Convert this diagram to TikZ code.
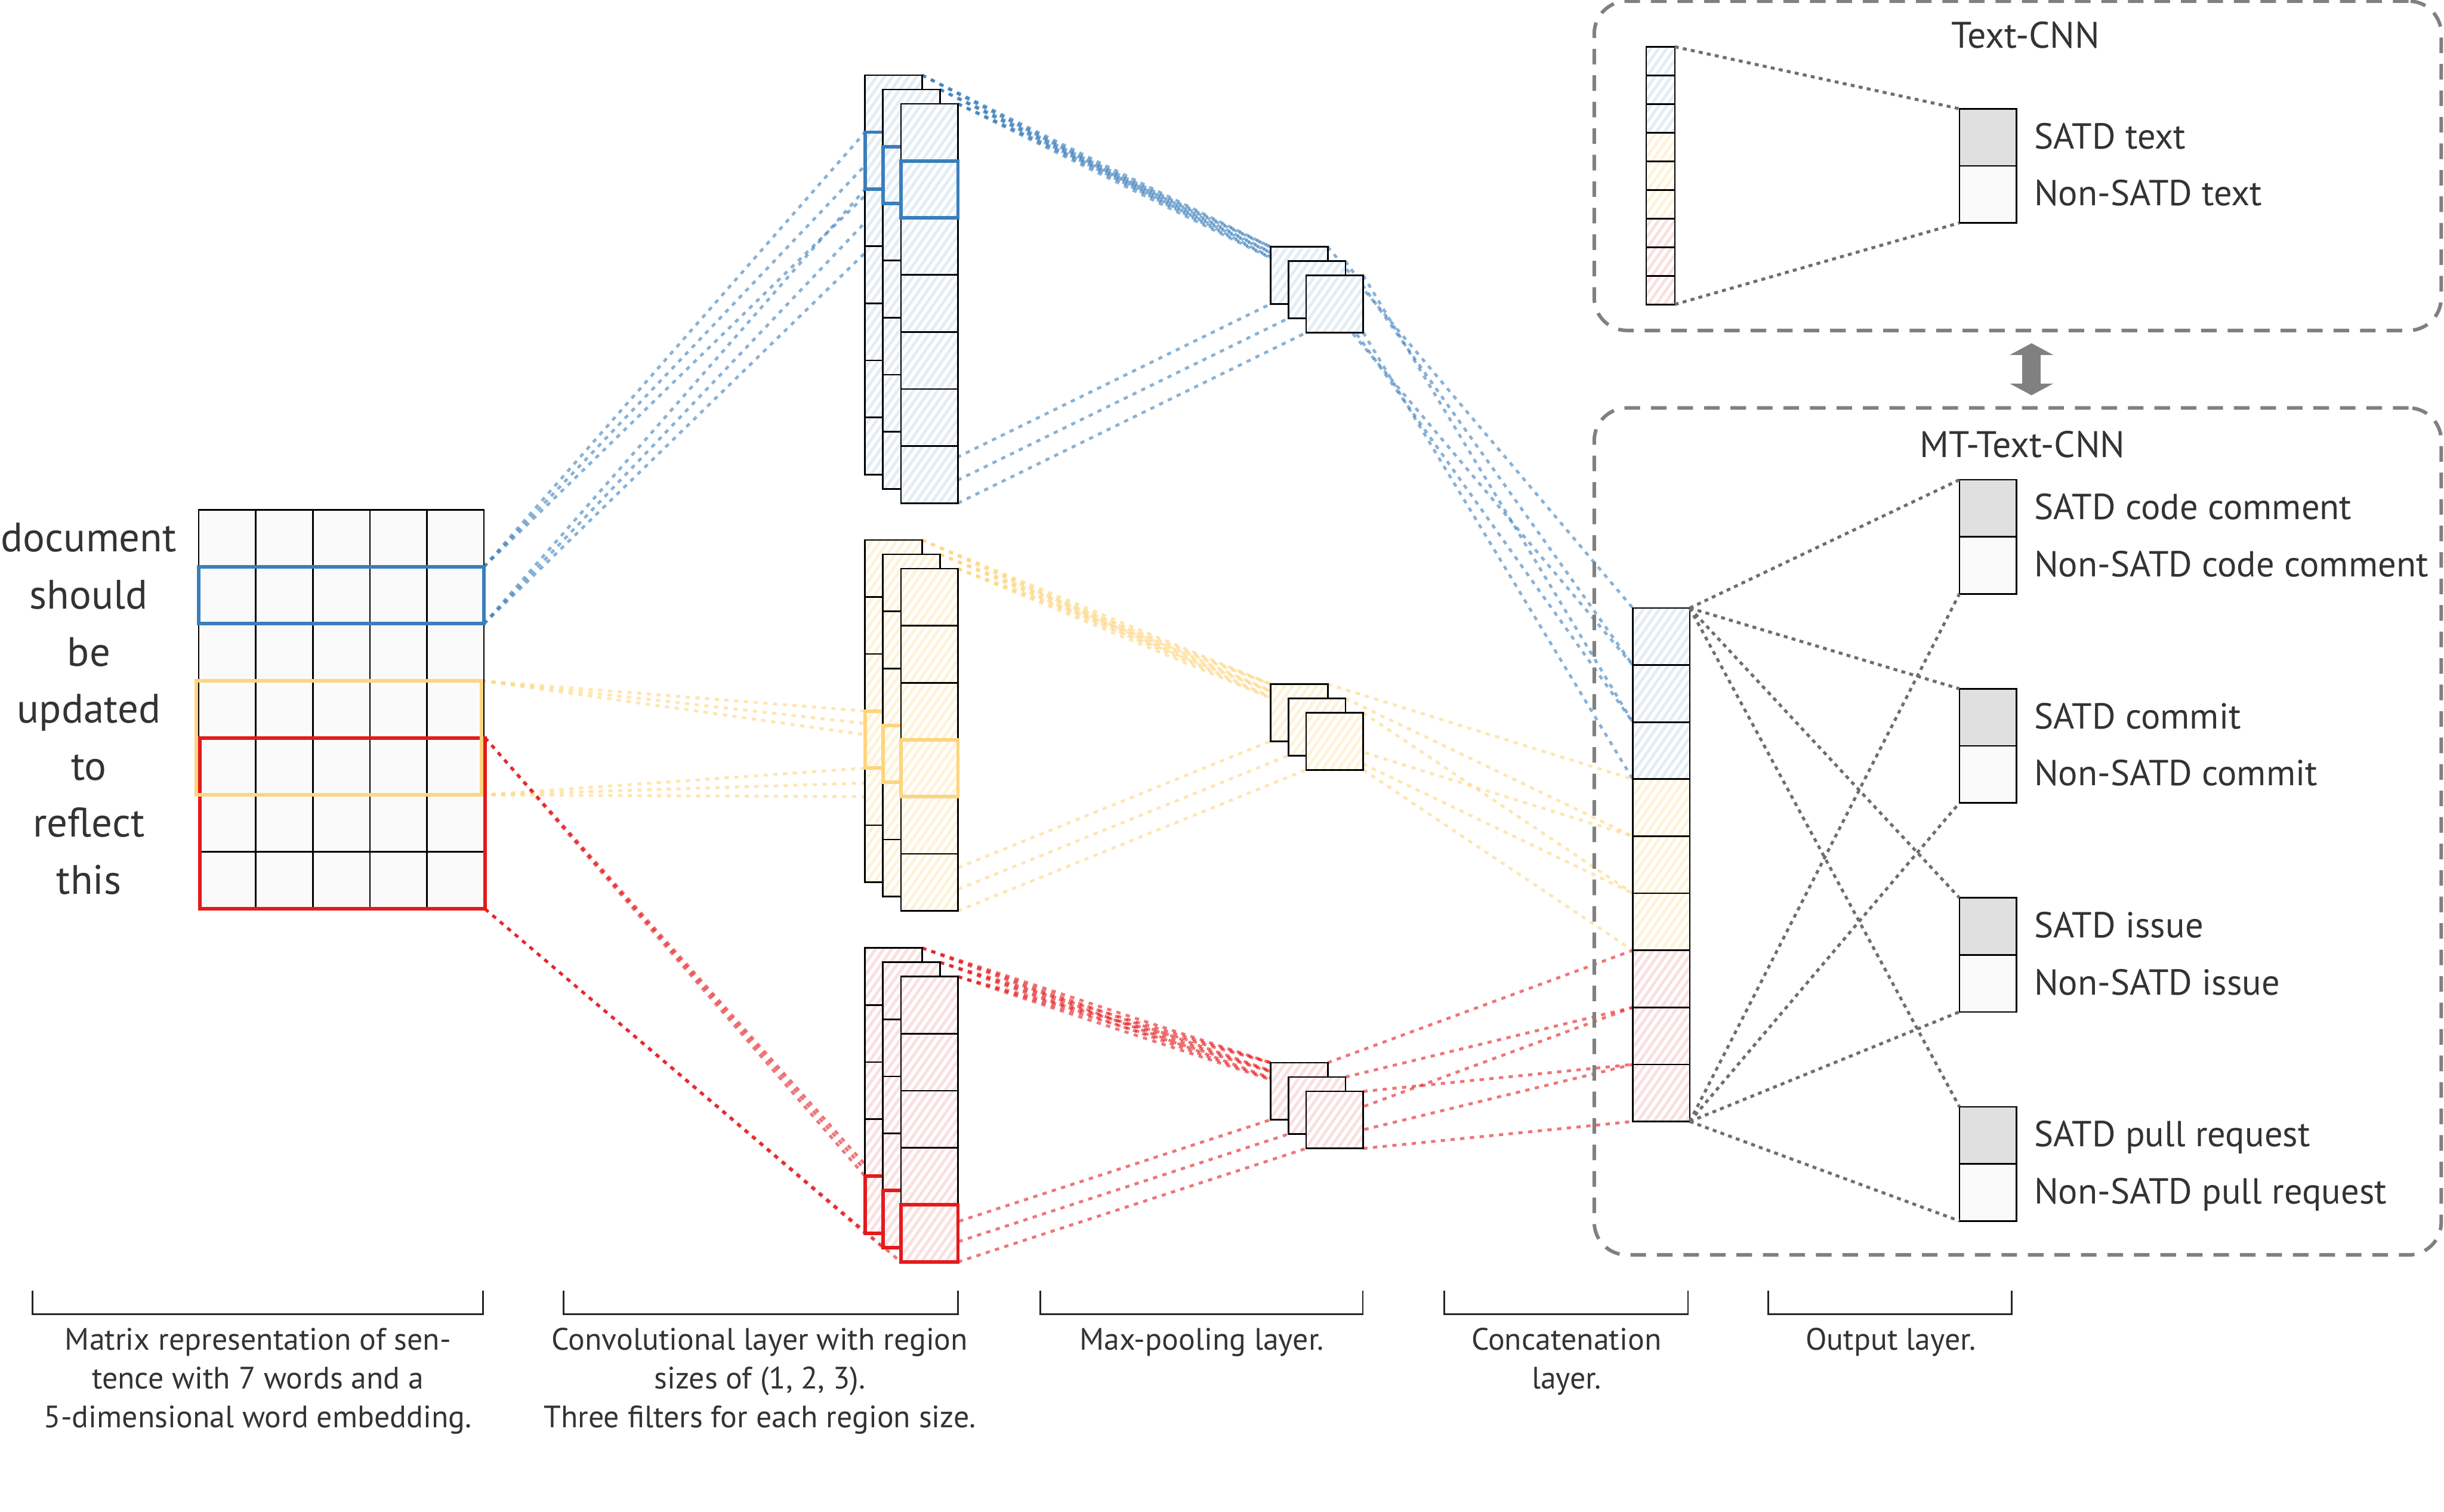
\documentclass[tikz,border=0pt]{standalone}
\usepackage{fontspec}
\setmainfont{PT Sans}
\usetikzlibrary{positioning, fit, arrows.meta, patterns.meta, backgrounds}

\definecolor{hlblue}{HTML}{3A7EBB}
\definecolor{hlyellow}{HTML}{FDD57E}
\definecolor{hlred}{HTML}{E31A1C}
\colorlet{hatchB}{hlblue!14}
\colorlet{hatchY}{hlyellow!30}
\colorlet{hatchR}{hlred!14}
\definecolor{inkgray}{HTML}{333333}
\definecolor{boxgray}{HTML}{808080}
\definecolor{linkgray}{HTML}{6E6E6E}

\begin{document}
\begin{tikzpicture}[
    x=0.2mm, y=-0.2mm,
    every node/.style={text=inkgray},
    gridcell/.style={draw, line width=0.6pt, fill=black!2, minimum size=7.32mm, inner sep=0, outer sep=0},
    hatchcell/.style={draw, line width=0.6pt, minimum size=7.32mm, inner sep=0, outer sep=0,
      preaction={fill=white}, pattern={Lines[angle=55, distance=2.4pt, line width=1.1pt]}, pattern color=#1},
    smallcell/.style={hatchcell=#1, minimum size=3.67mm},
    outcell/.style={draw, line width=0.6pt, minimum size=7.32mm, inner sep=0, outer sep=0, fill=#1},
    hlbox/.style={draw=#1, line width=1.3pt, inner sep=0, outer sep=0},
    link/.style={#1, opacity=0.6, line width=1.05pt, dash pattern=on 0.55mm off 0.7mm},
    graylink/.style={linkgray, line width=1.1pt, dash pattern=on 0.5mm off 0.55mm},
    groupbox/.style={draw=boxgray, line width=1.3pt, dash pattern=on 2mm off 1.4mm, rounded corners=4.2mm, inner sep=0, outer sep=0},
    word/.style={font=\fontsize{15}{17}\selectfont, text height=1.6ex, text depth=0.4ex, yshift=-0.7mm},
    lbl/.style={font=\fontsize{13.2}{16}\selectfont, inner sep=0, text height=1.6ex, text depth=0.4ex, yshift=-0.4mm},
    boxtitle/.style={font=\fontsize{13.5}{16}\selectfont},
    caption/.style={font=\fontsize{11.3}{14.2}\selectfont, align=center, yshift=-0.4mm},
    bracket/.style={draw=black!85, line width=0.6pt},
    twoway/.style={boxgray, line width=2.34mm, {Triangle[width=5.5mm,length=1.5mm]}-{Triangle[width=5.5mm,length=1.5mm]}}
  ]
  \useasboundingbox (0,0) rectangle (1568,970);

  % sentence matrix
  \foreach \r in {1,...,7}
    \foreach \c in {1,...,5}
      \node[gridcell] (m-\r-\c) at ({145.8+36.6*(\c-1)}, {345.3+36.6*(\r-1)}) {};
  \foreach \w [count=\r] in {document, should, be, updated, to, reflect, this}
    \node[word] (w-\r) at (57, {345.3+36.6*(\r-1)}) {\w};
  \node[hlbox=hlblue, fit=(m-2-1)(m-2-5)] (mB) {};
  \node[hlbox=hlred, fit=(m-5-1)(m-7-5), xshift=0.15mm] (mR) {};
  \node[hlbox=hlyellow, fit=(m-4-1)(m-5-5), xshift=-0.3mm] (mY) {};

  % convolution filters
  \foreach \g/\ty/\n/\h/\col/\hc in {B/48.2/7/2/hlblue/hatchB, Y/346.4/6/4/hlyellow/hatchY, R/608.2/5/5/hlred/hatchR}
    \foreach \k in {1,2,3} {
      \foreach \i in {1,...,\n}
        \node[hatchcell=\hc] (c\g-\k-\i) at ({573.3+11.5*(\k-1)}, {\ty+18.3+9.2*(\k-1)+36.6*(\i-1)}) {};
      \node[hlbox=\col, fit=(c\g-\k-\h)] (h\g-\k) {};
    }

  % max pooling
  \foreach \g/\ty/\hc in {B/158.4/hatchB, Y/438.9/hatchY, R/681.8/hatchR}
    \foreach \k in {1,2,3}
      \node[hatchcell=\hc] (p\g-\k) at ({833.5+11.4*(\k-1)}, {\ty+18.3+9.2*(\k-1)}) {};

  % concatenation
  \foreach \i/\hc in {1/hatchB,2/hatchB,3/hatchB,4/hatchY,5/hatchY,6/hatchY,7/hatchR,8/hatchR,9/hatchR} {
    \node[hatchcell=\hc] (cat-\i) at (1065.8, {408.4+36.6*(\i-1)}) {};
    \node[smallcell=\hc] (sc-\i) at (1065.35, {39.18+18.37*(\i-1)}) {};
  }

  \begin{scope}[on background layer]
    \foreach \g/\col in {B/hlblue, Y/hlyellow, R/hlred}
      \foreach \k in {1,2,3} {
        \draw[link=\col] (m\g.north east) -- (h\g-\k.north west);
        \draw[link=\col] (m\g.south east) -- (h\g-\k.south west);
      }
    \foreach \g/\n/\col in {B/7/hlblue, Y/6/hlyellow, R/5/hlred}
      \foreach \k in {1,2,3} {
        \foreach \j in {1,2,3}
          \draw[link=\col] (c\g-\k-1.north east) -- (p\g-\j.north west);
        \draw[link=\col] (c\g-\k-\n.south east) -- (p\g-\k.south west);
      }
    \foreach \g/\off/\col in {B/0/hlblue, Y/3/hlyellow, R/6/hlred}
      \foreach \k in {1,2,3} {
        \pgfmathtruncatemacro\ci{\k+\off}
        \draw[link=\col] (p\g-\k.north east) -- (cat-\ci.north west);
        \draw[link=\col] (p\g-\k.south east) -- (cat-\ci.south west);
      }
  \end{scope}

  % Text-CNN
  \node[groupbox, minimum width=108.68mm, minimum height=42.26mm, anchor=north west] (tcnn) at (1022.8, 0.7) {};
  \node[boxtitle] (tcnn-t) at (1299.6, 22.5) {Text-CNN};
  \node[outcell=black!12] (to-a) at (1275.4, 88.1) {};
  \node[outcell=black!2] (to-b) at (1275.4, 124.7) {};
  \node[lbl, right=2.2mm of to-a] (lt-a) {SATD text};
  \node[lbl, right=2.2mm of to-b] (lt-b) {Non-SATD text};
  \draw[graylink] (sc-1.north east) -- (to-a.north west);
  \draw[graylink] (sc-9.south east) -- (to-b.south west);

  % MT-Text-CNN
  \node[groupbox, minimum width=108.68mm, minimum height=108.68mm, anchor=north west] (mt) at (1022.8, 261.7) {};
  \node[boxtitle] (mt-t) at (1297.5, 285) {MT-Text-CNN};
  \foreach \g/\t in {1/code comment, 2/commit, 3/issue, 4/pull request} {
    \node[outcell=black!12] (o-\g-a) at (1275.4, {326.1+134.1*(\g-1)}) {};
    \node[outcell=black!2] (o-\g-b) at (1275.4, {362.7+134.1*(\g-1)}) {};
    \node[lbl, right=2.2mm of o-\g-a] (lo-\g-a) {SATD \t};
    \node[lbl, right=2.2mm of o-\g-b] (lo-\g-b) {Non-SATD \t};
    \draw[graylink] (cat-1.north east) -- (o-\g-a.north west);
    \draw[graylink] (cat-9.south east) -- (o-\g-b.south west);
  }

  \draw[twoway] ([xshift=1.77mm, yshift=-1.64mm]tcnn.south) -- ([xshift=1.77mm, yshift=1.62mm]mt.north);

  % layer captions
  \foreach \a/\b in {21/310, 361.5/614.5, 667.3/874.3, 926.7/1083, 1134.5/1290.7}
    \draw[bracket] (\a,828) |- (\b,843) -- (\b,828);
  \node[caption] (cap-m) at (165.5, 884) {Matrix representation of sen-\\tence with 7 words and a\\5-dimensional word embedding.};
  \node[caption] (cap-c) at (487.5, 884) {Convolutional layer with region\\sizes of (1, 2, 3).\\Three filters for each region size.};
  \node[caption] (cap-p) at (771, 859) {Max-pooling layer.};
  \node[caption] (cap-k) at (1005, 871.5) {Concatenation\\layer.};
  \node[caption] (cap-o) at (1213, 859) {Output layer.};
\end{tikzpicture}
\end{document}
